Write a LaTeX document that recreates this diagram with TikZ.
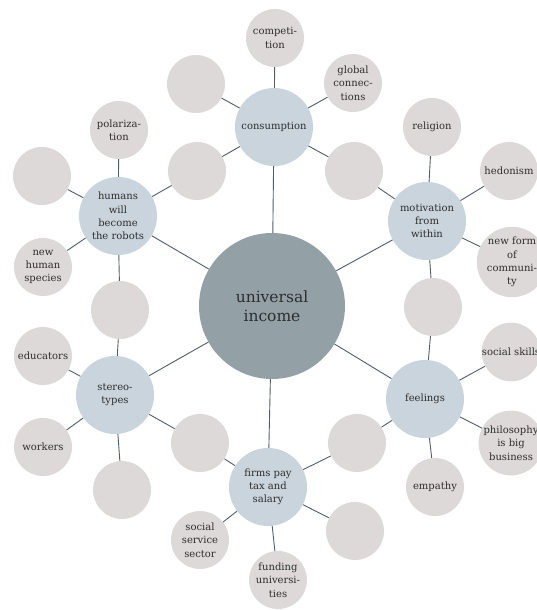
\documentclass[tikz,border=0pt]{standalone}
\usepackage{fontspec}
\setmainfont{DejaVu Serif}
\definecolor{satfill}{HTML}{DCD9D8}
\definecolor{hubfill}{HTML}{C9D4DC}
\definecolor{cenfill}{HTML}{93A0A6}
\definecolor{txt}{HTML}{2E2E2E}
\definecolor{edge}{HTML}{4E5E6A}
\begin{document}
\begin{tikzpicture}[x=1pt,y=-1pt,
  sat/.style={circle,fill=satfill,minimum size=58pt,inner sep=0pt,align=center,text=txt,font=\fontsize{10}{13.3}\selectfont},
  hub/.style={circle,fill=hubfill,minimum size=78pt,inner sep=0pt,align=center,text=txt,font=\fontsize{10}{13.3}\selectfont},
  cen/.style={circle,fill=cenfill,minimum size=146pt,inner sep=0pt,align=center,text=txt,font=\fontsize{15.5}{19}\selectfont},
  link/.style={draw=edge,line width=0.9pt}]
\useasboundingbox (0,0) rectangle (537,610);
% center
\node[cen] (C) at (272,306) {universal\\income};
% hubs
\node[hub] (cons) at (274,127) {consumption};
\node[hub] (hum) at (118,216) {humans\\will\\become\\the robots};
\node[hub] (mot) at (427,221) {motivation\\from\\within};
\node[hub] (ster) at (115,395) {stereo-\\types};
\node[hub] (feel) at (425,399) {feelings};
\node[hub] (firm) at (268,487) {firms pay\\tax and\\salary};
% satellites
\node[sat] (comp) at (275,38) {competi-\\tion};
\node[sat] (glob) at (353,83) {global\\connec-\\tions};
\node[sat] (e1) at (196,84) {};
\node[sat] (e2) at (197,171) {};
\node[sat] (e3) at (354,171) {};
\node[sat] (pol) at (119,130) {polariza-\\tion};
\node[sat] (e4) at (42,176) {};
\node[sat] (nhs) at (43,267) {new\\human\\species};
\node[sat] (e5) at (120,310) {};
\node[sat] (rel) at (432,127) {religion};
\node[sat] (hed) at (509,171) {hedonism};
\node[sat] (nfc) at (512,262) {new form\\of\\communi-\\ty};
\node[sat] (e6) at (433,307) {};
\node[sat] (edu) at (43,356) {educators};
\node[sat] (work) at (43,447) {workers};
\node[sat] (e7) at (122,490) {};
\node[sat] (e8) at (200,443) {};
\node[sat] (soc) at (511,352) {social skills};
\node[sat] (phil) at (511,443) {philosophy\\is big\\business};
\node[sat] (emp) at (435,487) {empathy};
\node[sat] (e9) at (357,443) {};
\node[sat] (sss) at (200,540) {social\\service\\sector};
\node[sat] (fund) at (278,580) {funding\\universi-\\ties};
\node[sat] (e10) at (355,531) {};
% connectors
\foreach \h in {cons,hum,mot,ster,feel,firm} \draw[link] (C) -- (\h);
\foreach \s in {comp,glob,e1,e2,e3} \draw[link] (cons) -- (\s);
\foreach \s in {pol,e4,nhs,e5,e2} \draw[link] (hum) -- (\s);
\foreach \s in {rel,hed,nfc,e6,e3} \draw[link] (mot) -- (\s);
\foreach \s in {edu,work,e7,e8,e5} \draw[link] (ster) -- (\s);
\foreach \s in {soc,phil,emp,e9,e6} \draw[link] (feel) -- (\s);
\foreach \s in {sss,fund,e10,e8,e9} \draw[link] (firm) -- (\s);
\end{tikzpicture}
\end{document}
